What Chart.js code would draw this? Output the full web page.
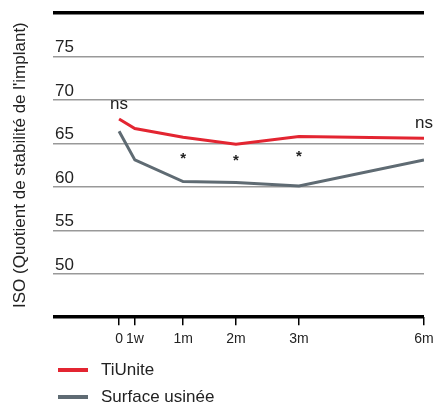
<!DOCTYPE html>
<html>
<head>
<meta charset="utf-8">
<script src="https://cdn.jsdelivr.net/npm/chart.js@4"></script>
<style>
  html, body { margin: 0; padding: 0; background: #fff; }
  #wrap { width: 440px; height: 403px; position: relative; }
</style>
</head>
<body>
<div id="wrap"><canvas id="isochart" width="440" height="403"></canvas></div>
<script>
// time points (position along the drawn axis, in its own units) and their labels
const timeLabels = ["0", "1w", "1m", "2m", "3m", "6m"];
const timePos = [0, 0.31, 1.26, 2.3, 3.54, 6];

// ISQ values
const tiUnite = [67.8, 66.7, 65.7, 64.9, 65.8, 65.6];
const usinee = [66.4, 63.1, 60.6, 60.5, 60.1, 63.1];

const seriesNames = ["TiUnite", "Surface usinée"];
const seriesColors = ["#e32531", "#5f6b73"];

// significance marks: [time index, y value, text]
const marks = [
  [0, 69.5, "ns"],
  [2, 63.2, "*"],
  [3, 63.0, "*"],
  [4, 63.4, "*"],
  [5, 67.3, "ns"],
];

const yLabels = [50, 55, 60, 65, 70, 75];
const FONT = '"Liberation Sans", Arial, sans-serif';

const extras = {
  id: "extras",
  afterDraw(chart) {
    const ctx = chart.ctx;
    const xs = chart.scales.x;
    const ys = chart.scales.y;
    const area = chart.chartArea;
    ctx.save();
    // y labels sit just above each grid line, inside the plot
    ctx.fillStyle = "#222";
    ctx.font = "17px " + FONT;
    ctx.textAlign = "left";
    ctx.textBaseline = "alphabetic";
    yLabels.forEach((v) => {
      ctx.fillText(String(v), area.left + 2, ys.getPixelForValue(v) - 4);
    });

    // ns / * marks
    ctx.textAlign = "center";
    ctx.textBaseline = "middle";
    marks.forEach((m) => {
      ctx.font = (m[2] === "*" ? "bold 15px " : "17px ") + FONT;
      ctx.fillText(m[2], xs.getPixelForValue(timePos[m[0]]), ys.getPixelForValue(m[1]));
    });

    // legend, stacked
    ctx.textAlign = "left";
    ctx.font = "17px " + FONT;
    chart.data.datasets.forEach((ds, i) => {
      const y = 370 + i * 27;
      ctx.strokeStyle = ds.borderColor;
      ctx.lineWidth = 4;
      ctx.beginPath();
      ctx.moveTo(58, y);
      ctx.lineTo(88, y);
      ctx.stroke();
      ctx.fillStyle = "#222";
      ctx.fillText(ds.label, 101, y);
    });
    ctx.restore();
  },
};

const ctx = document.getElementById("isochart").getContext("2d");

new Chart(ctx, {
  type: "line",
  data: {
    datasets: [
      {
        label: seriesNames[0],
        data: timePos.map((x, i) => ({ x: x, y: tiUnite[i] })),
        borderColor: seriesColors[0],
        borderWidth: 3,
        pointRadius: 0,
        tension: 0,
      },
      {
        label: seriesNames[1],
        data: timePos.map((x, i) => ({ x: x, y: usinee[i] })),
        borderColor: seriesColors[1],
        borderWidth: 3,
        pointRadius: 0,
        tension: 0,
      },
    ],
  },
  options: {
    responsive: false,
    animation: false,
    layout: { padding: { top: 13, right: 16, bottom: 49, left: 0 } },
    plugins: {
      legend: { display: false },
      tooltip: { enabled: false },
    },
    scales: {
      x: {
        type: "linear",
        min: -1.3,
        max: 6,
        afterBuildTicks: (scale) => {
          scale.ticks = timePos.map((v) => ({ value: v }));
        },
        border: { display: false },
        grid: {
          display: true,
          drawOnChartArea: false,
          drawTicks: true,
          tickLength: 8,
          color: "#000",
          lineWidth: 1.5,
        },
        ticks: {
          autoSkip: false,
          maxRotation: 0,
          minRotation: 0,
          padding: 6,
          color: "#222",
          font: { size: 14, family: FONT },
          callback: (v, i) => timeLabels[i],
        },
      },
      y: {
        min: 45,
        max: 80,
        border: { display: false },
        grid: {
          drawTicks: false,
          color: (c) => (c.tick.value === 45 || c.tick.value === 80 ? "#000" : "#999"),
          lineWidth: (c) => (c.tick.value === 45 || c.tick.value === 80 ? 3.5 : 1.5),
        },
        ticks: { display: false, stepSize: 5 },
        title: {
          display: true,
          text: "ISO (Quotient de stabilité de l'implant)",
          color: "#222",
          font: { size: 17, family: FONT },
          padding: { top: 10, bottom: 22.6 },
        },
      },
    },
  },
  plugins: [extras],
});
</script>
</body>
</html>
